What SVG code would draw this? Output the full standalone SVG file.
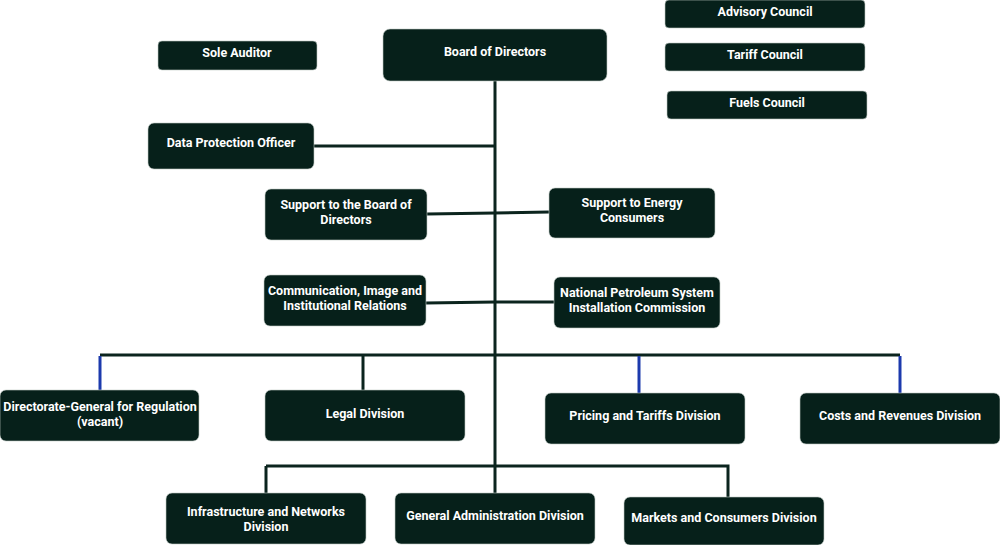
<svg xmlns="http://www.w3.org/2000/svg" width="1000" height="545" viewBox="0 0 1000 545">
<style>
.b{fill:#06201a;stroke:#bfc9c4;stroke-width:0.6}
.t{font-family:"Liberation Sans Narrow","Roboto","Liberation Sans",sans-serif;font-weight:bold;font-size:12.5px;fill:#ffffff;text-anchor:middle}
.c{stroke:#0b241e;stroke-width:3;fill:none}
.bl{stroke:#1c3aad;stroke-width:3;fill:none}
</style>
<rect width="1000" height="545" fill="#ffffff"/>
<g id="connectors">
<path class="c" d="M495 81V497"/>
<path class="c" d="M314 146H495"/>
<path class="c" d="M427 214L495 213L549 212"/>
<path class="c" d="M426 303L495 302L554 302"/>
<path class="c" d="M100 355H900"/>
<path class="bl" d="M100 356V390"/>
<path class="c" d="M363 356V390"/>
<path class="bl" d="M639 356V393"/>
<path class="bl" d="M900 356V393"/>
<path class="c" d="M266 466H728V497"/>
<path class="c" d="M266 466V493"/>
</g>
<g id="board"><rect class="b" x="383" y="29" width="224" height="52" rx="7"/><text class="t" x="495" y="56">Board of Directors</text></g>
<g id="auditor"><rect class="b" x="158" y="41" width="159" height="29" rx="4"/><text class="t" x="237" y="57">Sole Auditor</text></g>
<g id="advisory"><rect class="b" x="665" y="0" width="200" height="28" rx="4"/><text class="t" x="765" y="16">Advisory Council</text></g>
<g id="tariff"><rect class="b" x="665" y="43" width="200" height="28" rx="4"/><text class="t" x="765" y="59">Tariff Council</text></g>
<g id="fuels"><rect class="b" x="667" y="91" width="200" height="28" rx="4"/><text class="t" x="767" y="107">Fuels Council</text></g>
<g id="dpo"><rect class="b" x="148" y="123" width="166" height="46" rx="6"/><text class="t" x="231" y="147">Data Protection Officer</text></g>
<g id="supportBoard"><rect class="b" x="265" y="189" width="162" height="51" rx="6"/><text class="t" x="346" y="209">Support to the Board of</text><text class="t" x="346" y="224">Directors</text></g>
<g id="supportEnergy"><rect class="b" x="549" y="188" width="166" height="50" rx="6"/><text class="t" x="632" y="207">Support to Energy</text><text class="t" x="632" y="222">Consumers</text></g>
<g id="communication"><rect class="b" x="264" y="275" width="162" height="51" rx="6"/><text class="t" x="345" y="295">Communication, Image and</text><text class="t" x="345" y="310">Institutional Relations</text></g>
<g id="petroleum"><rect class="b" x="554" y="277" width="166" height="51" rx="6"/><text class="t" x="637" y="297">National Petroleum System</text><text class="t" x="637" y="312">Installation Commission</text></g>
<g id="dgRegulation"><rect class="b" x="0" y="390" width="199" height="51" rx="6"/><text class="t" x="100" y="411">Directorate-General for Regulation</text><text class="t" x="100" y="426">(vacant)</text></g>
<g id="legal"><rect class="b" x="265" y="390" width="200" height="51" rx="6"/><text class="t" x="365" y="418">Legal Division</text></g>
<g id="pricing"><rect class="b" x="545" y="393" width="200" height="51" rx="6"/><text class="t" x="645" y="420">Pricing and Tariffs Division</text></g>
<g id="costs"><rect class="b" x="800" y="393" width="200" height="51" rx="6"/><text class="t" x="900" y="420">Costs and Revenues Division</text></g>
<g id="infrastructure"><rect class="b" x="166" y="493" width="200" height="51" rx="6"/><text class="t" x="266" y="516">Infrastructure and Networks</text><text class="t" x="266" y="531">Division</text></g>
<g id="generalAdmin"><rect class="b" x="395" y="493" width="200" height="51" rx="6"/><text class="t" x="495" y="520">General Administration Division</text></g>
<g id="markets"><rect class="b" x="624" y="497" width="200" height="48" rx="6"/><text class="t" x="724" y="522">Markets and Consumers Division</text></g>
</svg>
